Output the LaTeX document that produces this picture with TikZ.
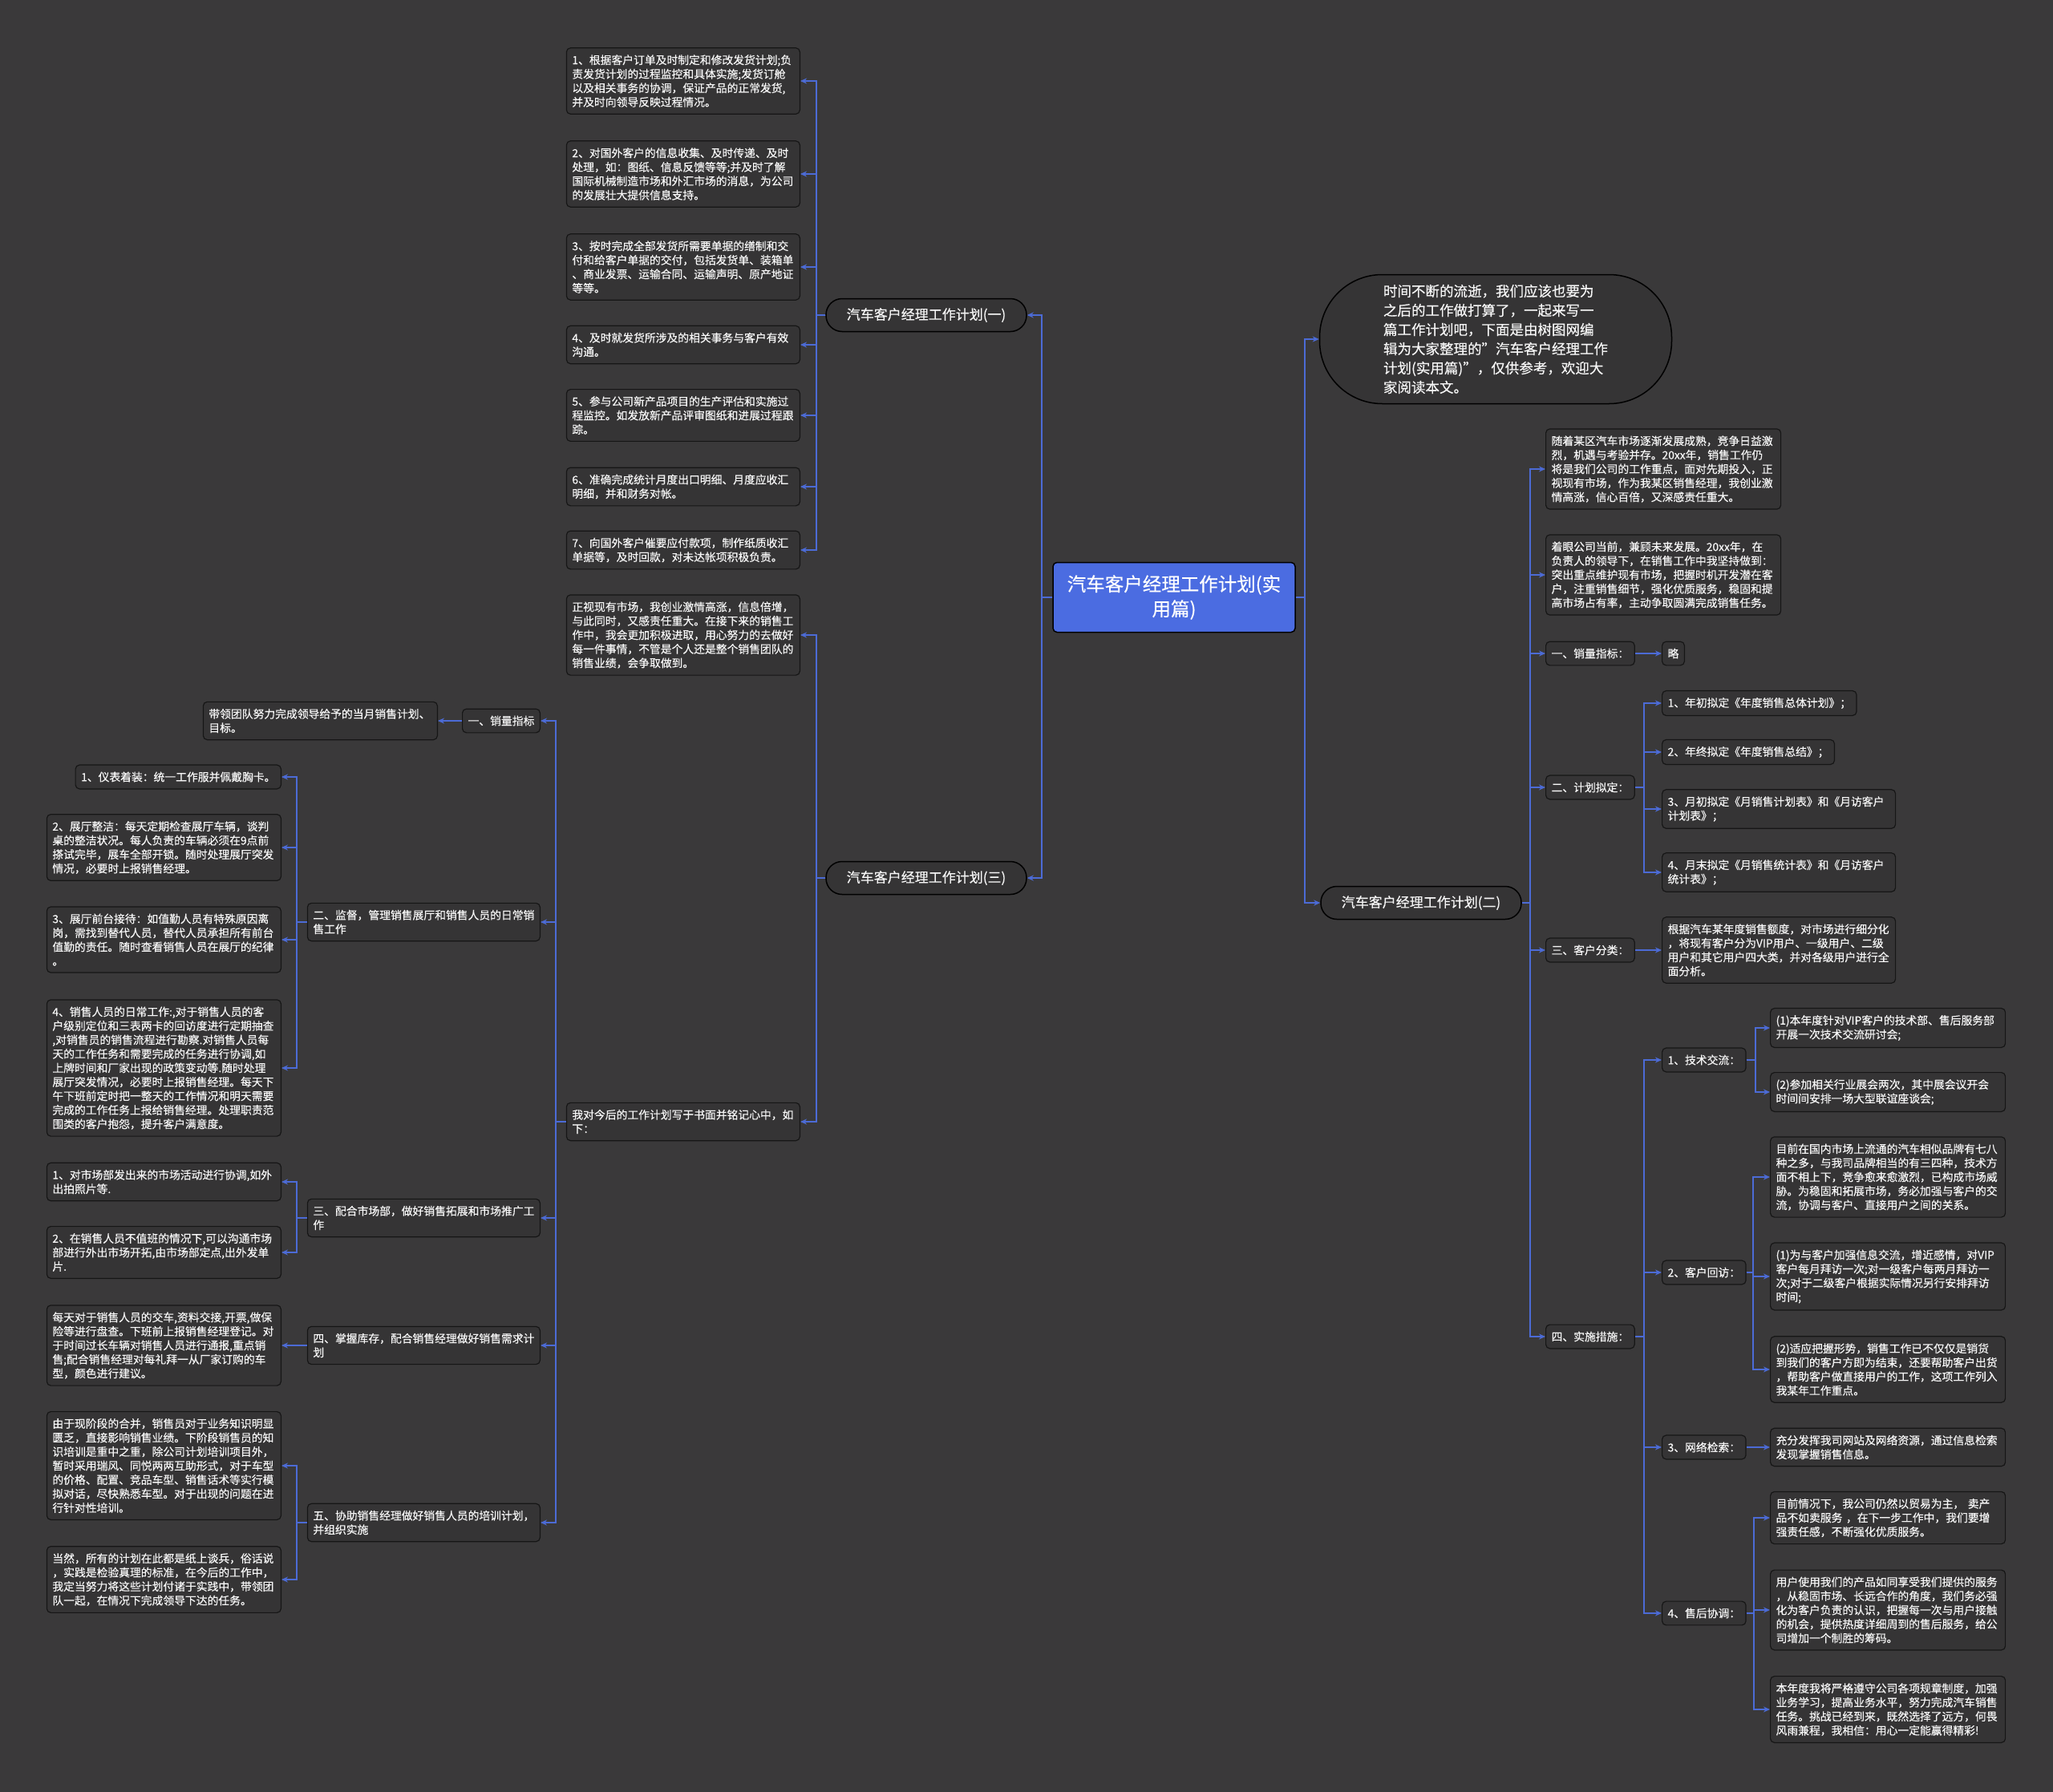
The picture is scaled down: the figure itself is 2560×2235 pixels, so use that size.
\documentclass[tikz,border=0pt]{standalone}
\usepackage{fontspec}
\setmainfont{Noto Sans CJK SC}[FakeBold=0.3]
\usepackage{tikz}
\usetikzlibrary{arrows.meta, positioning}

\definecolor{bgcol}{RGB}{58,57,58}
\definecolor{boxcol}{RGB}{53,52,53}
\definecolor{rimcol}{RGB}{22,22,22}
\definecolor{linkcol}{RGB}{76,107,214}
\definecolor{rootcol}{RGB}{75,108,225}
\definecolor{txtcol}{RGB}{246,246,246}

\begin{document}
\begin{tikzpicture}[
  x=1pt, y=-1pt,
  itembox/.style={draw=rimcol, line width=1.2pt, fill=boxcol, rounded corners=5pt, text=txtcol,
    font=\fontsize{13.8}{17.5}\selectfont, align=left, inner xsep=7pt, inner ysep=8.5pt},
  wideitem/.style={itembox, text width=#1},
  branchbox/.style={draw=black, line width=1.5pt, fill=boxcol, rounded corners=20pt, text=txtcol,
    minimum width=250pt, minimum height=41pt, font=\fontsize{17}{20}\selectfont},
  rootbox/.style={draw=black, line width=1.5pt, fill=rootcol, rounded corners=5pt, text=white,
    minimum width=302pt, minimum height=87pt, text width=286pt, align=center,
    font=\fontsize{23.5}{31}\selectfont},
  introbox/.style={draw=black, line width=1.5pt, fill=boxcol, rounded corners=78pt, text=txtcol,
    minimum width=439pt, minimum height=161pt, align=left, font=\fontsize{17.5}{24}\selectfont},
  arr/.style={draw=linkcol, line width=1.8pt, -{Stealth[length=8pt, width=7pt]}}
]
  \useasboundingbox (0,0) rectangle (2560,2235);
  \fill[bgcol] (0,0) rectangle (2560,2235);

  \node[rootbox] (root) at (1464,745) {汽车客户经理工作计划(实\\用篇)};
  \node[introbox] (intro) at (1865,423) {时间不断的流逝，我们应该也要为\\之后的工作做打算了，一起来写一\\篇工作计划吧，下面是由树图网编\\辑为大家整理的"汽车客户经理工作\\计划(实用篇)"，仅供参考，欢迎大\\家阅读本文。};
  \node[branchbox] (p1) at (1155,393) {汽车客户经理工作计划(一)};
  \node[branchbox] (p3) at (1155,1095) {汽车客户经理工作计划(三)};
  \node[branchbox] (p2) at (1772,1126) {汽车客户经理工作计划(二)};

  \node[wideitem=277pt, anchor=east] (a1) at (998,101) {1、根据客户订单及时制定和修改发货计划;负\\责发货计划的过程监控和具体实施;发货订舱\\以及相关事务的协调，保证产品的正常发货,\\并及时向领导反映过程情况。};
  \node[wideitem=277pt, anchor=east] (a2) at (998,217) {2、对国外客户的信息收集、及时传递、及时\\处理，如：图纸、信息反馈等等;并及时了解\\国际机械制造市场和外汇市场的消息，为公司\\的发展壮大提供信息支持。};
  \node[wideitem=277pt, anchor=east] (a3) at (998,333) {3、按时完成全部发货所需要单据的缮制和交\\付和给客户单据的交付，包括发货单、装箱单\\、商业发票、运输合同、运输声明、原产地证\\等等。};
  \node[wideitem=277pt, anchor=east] (a4) at (998,430) {4、及时就发货所涉及的相关事务与客户有效\\沟通。};
  \node[wideitem=277pt, anchor=east] (a5) at (998,518) {5、参与公司新产品项目的生产评估和实施过\\程监控。如发放新产品评审图纸和进展过程跟\\踪。};
  \node[wideitem=277pt, anchor=east] (a6) at (998,607) {6、准确完成统计月度出口明细、月度应收汇\\明细，并和财务对帐。};
  \node[wideitem=277pt, anchor=east] (a7) at (998,686) {7、向国外客户催要应付款项，制作纸质收汇\\单据等，及时回款，对未达帐项积极负责。};

  \node[wideitem=277pt, anchor=east] (c1) at (998,792) {正视现有市场，我创业激情高涨，信息倍增，\\与此同时，又感责任重大。在接下来的销售工\\作中，我会更加积极进取，用心努力的去做好\\每一件事情，不管是个人还是整个销售团队的\\销售业绩，会争取做到。};
  \node[wideitem=277pt, anchor=east] (c2) at (998,1399) {我对今后的工作计划写于书面并铭记心中，如\\下：};

  \node[itembox, anchor=east] (s1) at (674,899) {一、销量指标};
  \node[wideitem=278pt, anchor=east] (s1a) at (546,899) {带领团队努力完成领导给予的当月销售计划、\\目标。};
  \node[wideitem=276pt, anchor=east] (s2) at (674,1150) {二、监督，管理销售展厅和销售人员的日常销\\售工作};
  \node[itembox, anchor=east] (s2a) at (351,969) {1、仪表着装：统一工作服并佩戴胸卡。};
  \node[wideitem=278pt, anchor=east] (s2b) at (351,1057) {2、展厅整洁：每天定期检查展厅车辆，谈判\\桌的整洁状况。每人负责的车辆必须在9点前\\搽试完毕，展车全部开锁。随时处理展厅突发\\情况，必要时上报销售经理。};
  \node[wideitem=278pt, anchor=east] (s2c) at (351,1172) {3、展厅前台接待：如值勤人员有特殊原因离\\岗，需找到替代人员，替代人员承担所有前台\\值勤的责任。随时查看销售人员在展厅的纪律\\。};
  \node[wideitem=278pt, anchor=east] (s2d) at (351,1332) {4、销售人员的日常工作:,对于销售人员的客\\户级别定位和三表两卡的回访度进行定期抽查\\,对销售员的销售流程进行勘察.对销售人员每\\天的工作任务和需要完成的任务进行协调,如\\上牌时间和厂家出现的政策变动等.随时处理\\展厅突发情况，必要时上报销售经理。每天下\\午下班前定时把一整天的工作情况和明天需要\\完成的工作任务上报给销售经理。处理职责范\\围类的客户抱怨，提升客户满意度。};
  \node[wideitem=276pt, anchor=east] (s3) at (674,1519) {三、配合市场部，做好销售拓展和市场推广工\\作};
  \node[wideitem=278pt, anchor=east] (s3a) at (351,1474) {1、对市场部发出来的市场活动进行协调,如外\\出拍照片等.};
  \node[wideitem=278pt, anchor=east] (s3b) at (351,1562) {2、在销售人员不值班的情况下,可以沟通市场\\部进行外出市场开拓,由市场部定点,出外发单\\片.};
  \node[wideitem=276pt, anchor=east] (s4) at (674,1678) {四、掌握库存，配合销售经理做好销售需求计\\划};
  \node[wideitem=278pt, anchor=east] (s4a) at (351,1678) {每天对于销售人员的交车,资料交接,开票,做保\\险等进行盘查。下班前上报销售经理登记。对\\于时间过长车辆对销售人员进行通报,重点销\\售;配合销售经理对每礼拜一从厂家订购的车\\型，颜色进行建议。};
  \node[wideitem=276pt, anchor=east] (s5) at (674,1899) {五、协助销售经理做好销售人员的培训计划，\\并组织实施};
  \node[wideitem=278pt, anchor=east] (s5a) at (351,1828) {由于现阶段的合并，销售员对于业务知识明显\\匮乏，直接影响销售业绩。下阶段销售员的知\\识培训是重中之重，除公司计划培训项目外，\\暂时采用瑞风、同悦两两互助形式，对于车型\\的价格、配置、竞品车型、销售话术等实行模\\拟对话，尽快熟悉车型。对于出现的问题在进\\行针对性培训。};
  \node[wideitem=278pt, anchor=east] (s5b) at (351,1970) {当然，所有的计划在此都是纸上谈兵，俗话说\\，实践是检验真理的标准，在今后的工作中，\\我定当努力将这些计划付诸于实践中，带领团\\队一起，在情况下完成领导下达的任务。};

  \node[wideitem=279pt, anchor=west] (r1) at (1927,585) {随着某区汽车市场逐渐发展成熟，竞争日益激\\烈，机遇与考验并存。20xx年，销售工作仍\\将是我们公司的工作重点，面对先期投入，正\\视现有市场，作为我某区销售经理，我创业激\\情高涨，信心百倍，又深感责任重大。};
  \node[wideitem=279pt, anchor=west] (r2) at (1927,717) {着眼公司当前，兼顾未来发展。20xx年，在\\负责人的领导下，在销售工作中我坚持做到：\\突出重点维护现有市场，把握时机开发潜在客\\户，注重销售细节，强化优质服务，稳固和提\\高市场占有率，主动争取圆满完成销售任务。};
  \node[itembox, anchor=west] (q1) at (1927,815) {一、销量指标：};
  \node[itembox, anchor=west] (q1a) at (2072,815) {略};
  \node[itembox, anchor=west] (q2) at (1927,982) {二、计划拟定：};
  \node[itembox, anchor=west] (q2a) at (2072,877) {1、年初拟定《年度销售总体计划》；};
  \node[itembox, anchor=west] (q2b) at (2072,938) {2、年终拟定《年度销售总结》；};
  \node[wideitem=277pt, anchor=west] (q2c) at (2072,1009) {3、月初拟定《月销售计划表》和《月访客户\\计划表》；};
  \node[wideitem=277pt, anchor=west] (q2d) at (2072,1088) {4、月末拟定《月销售统计表》和《月访客户\\统计表》；};
  \node[itembox, anchor=west] (q3) at (1927,1185) {三、客户分类：};
  \node[wideitem=277pt, anchor=west] (q3a) at (2072,1185) {根据汽车某年度销售额度，对市场进行细分化\\，将现有客户分为VIP用户、一级用户、二级\\用户和其它用户四大类，并对各级用户进行全\\面分析。};
  \node[itembox, anchor=west] (q4) at (1927,1667) {四、实施措施：};

  \node[itembox, anchor=west] (t1) at (2072,1322) {1、技术交流：};
  \node[wideitem=279pt, anchor=west] (t1a) at (2207,1282) {(1)本年度针对VIP客户的技术部、售后服务部\\开展一次技术交流研讨会;};
  \node[wideitem=279pt, anchor=west] (t1b) at (2207,1362) {(2)参加相关行业展会两次，其中展会议开会\\时间间安排一场大型联谊座谈会;};
  \node[itembox, anchor=west] (t2) at (2072,1587) {2、客户回访：};
  \node[wideitem=279pt, anchor=west] (t2a) at (2207,1468) {目前在国内市场上流通的汽车相似品牌有七八\\种之多，与我司品牌相当的有三四种，技术方\\面不相上下，竞争愈来愈激烈，已构成市场威\\胁。为稳固和拓展市场，务必加强与客户的交\\流，协调与客户、直接用户之间的关系。};
  \node[wideitem=279pt, anchor=west] (t2b) at (2207,1592) {(1)为与客户加强信息交流，增近感情，对VIP\\客户每月拜访一次;对一级客户每两月拜访一\\次;对于二级客户根据实际情况另行安排拜访\\时间;};
  \node[wideitem=279pt, anchor=west] (t2c) at (2207,1708) {(2)适应把握形势，销售工作已不仅仅是销货\\到我们的客户方即为结束，还要帮助客户出货\\，帮助客户做直接用户的工作，这项工作列入\\我某年工作重点。};
  \node[itembox, anchor=west] (t3) at (2072,1805) {3、网络检索：};
  \node[wideitem=279pt, anchor=west] (t3a) at (2207,1805) {充分发挥我司网站及网络资源，通过信息检索\\发现掌握销售信息。};
  \node[itembox, anchor=west] (t4) at (2072,2012) {4、售后协调：};
  \node[wideitem=279pt, anchor=west] (t4a) at (2207,1893) {目前情况下，我公司仍然以贸易为主，~卖产\\品不如卖服务~，在下一步工作中，我们要增\\强责任感，不断强化优质服务。};
  \node[wideitem=279pt, anchor=west] (t4b) at (2207,2008) {用户使用我们的产品如同享受我们提供的服务\\，从稳固市场、长远合作的角度，我们务必强\\化为客户负责的认识，把握每一次与用户接触\\的机会，提供热度详细周到的售后服务，给公\\司增加一个制胜的筹码。};
  \node[wideitem=279pt, anchor=west] (t4c) at (2207,2132) {本年度我将严格遵守公司各项规章制度，加强\\业务学习，提高业务水平，努力完成汽车销售\\任务。挑战已经到来，既然选择了远方，何畏\\风雨兼程，我相信：用心一定能赢得精彩!};

  \draw[arr] (root.east) -- ++(11,0) |- (intro.west);
  \draw[arr] (root.east) -- ++(11,0) |- (p2.west);
  \draw[arr] (root.west) -- ++(-13,0) |- (p1.east);
  \draw[arr] (root.west) -- ++(-13,0) |- (p3.east);

  \draw[arr] (p1.west) -- ++(-11,0) |- (a1.east);
  \draw[arr] (p1.west) -- ++(-11,0) |- (a2.east);
  \draw[arr] (p1.west) -- ++(-11,0) |- (a3.east);
  \draw[arr] (p1.west) -- ++(-11,0) |- (a4.east);
  \draw[arr] (p1.west) -- ++(-11,0) |- (a5.east);
  \draw[arr] (p1.west) -- ++(-11,0) |- (a6.east);
  \draw[arr] (p1.west) -- ++(-11,0) |- (a7.east);

  \draw[arr] (p3.west) -- ++(-11,0) |- (c1.east);
  \draw[arr] (p3.west) -- ++(-11,0) |- (c2.east);

  \draw[arr] (c2.west) -- ++(-13,0) |- (s1.east);
  \draw[arr] (c2.west) -- ++(-13,0) |- (s2.east);
  \draw[arr] (c2.west) -- ++(-13,0) |- (s3.east);
  \draw[arr] (c2.west) -- ++(-13,0) |- (s4.east);
  \draw[arr] (c2.west) -- ++(-13,0) |- (s5.east);
  \draw[arr] (s1.west) -- (s1a.east);
  \draw[arr] (s2.west) -- ++(-13,0) |- (s2a.east);
  \draw[arr] (s2.west) -- ++(-13,0) |- (s2b.east);
  \draw[arr] (s2.west) -- ++(-13,0) |- (s2c.east);
  \draw[arr] (s2.west) -- ++(-13,0) |- (s2d.east);
  \draw[arr] (s3.west) -- ++(-13,0) |- (s3a.east);
  \draw[arr] (s3.west) -- ++(-13,0) |- (s3b.east);
  \draw[arr] (s4.west) -- (s4a.east);
  \draw[arr] (s5.west) -- ++(-13,0) |- (s5a.east);
  \draw[arr] (s5.west) -- ++(-13,0) |- (s5b.east);

  \draw[arr] (p2.east) -- ++(10,0) |- (r1.west);
  \draw[arr] (p2.east) -- ++(10,0) |- (r2.west);
  \draw[arr] (p2.east) -- ++(10,0) |- (q1.west);
  \draw[arr] (p2.east) -- ++(10,0) |- (q2.west);
  \draw[arr] (p2.east) -- ++(10,0) |- (q3.west);
  \draw[arr] (p2.east) -- ++(10,0) |- (q4.west);
  \draw[arr] (q1.east) -- (q1a.west);
  \draw[arr] (q2.east) -- ++(11,0) |- (q2a.west);
  \draw[arr] (q2.east) -- ++(11,0) |- (q2b.west);
  \draw[arr] (q2.east) -- ++(11,0) |- (q2c.west);
  \draw[arr] (q2.east) -- ++(11,0) |- (q2d.west);
  \draw[arr] (q3.east) -- (q3a.west);
  \draw[arr] (q4.east) -- ++(11,0) |- (t1.west);
  \draw[arr] (q4.east) -- ++(11,0) |- (t2.west);
  \draw[arr] (q4.east) -- ++(11,0) |- (t3.west);
  \draw[arr] (q4.east) -- ++(11,0) |- (t4.west);

  \draw[arr] (t1.east) -- ++(11,0) |- (t1a.west);
  \draw[arr] (t1.east) -- ++(11,0) |- (t1b.west);
  \draw[arr] (t2.east) -- ++(8,0) |- (t2a.west);
  \draw[arr] (t2.east) -- ++(8,0) |- (t2b.west);
  \draw[arr] (t2.east) -- ++(8,0) |- (t2c.west);
  \draw[arr] (t3.east) -- (t3a.west);
  \draw[arr] (t4.east) -- ++(9,0) |- (t4a.west);
  \draw[arr] (t4.east) -- ++(9,0) |- (t4b.west);
  \draw[arr] (t4.east) -- ++(9,0) |- (t4c.west);
\end{tikzpicture}
\end{document}
